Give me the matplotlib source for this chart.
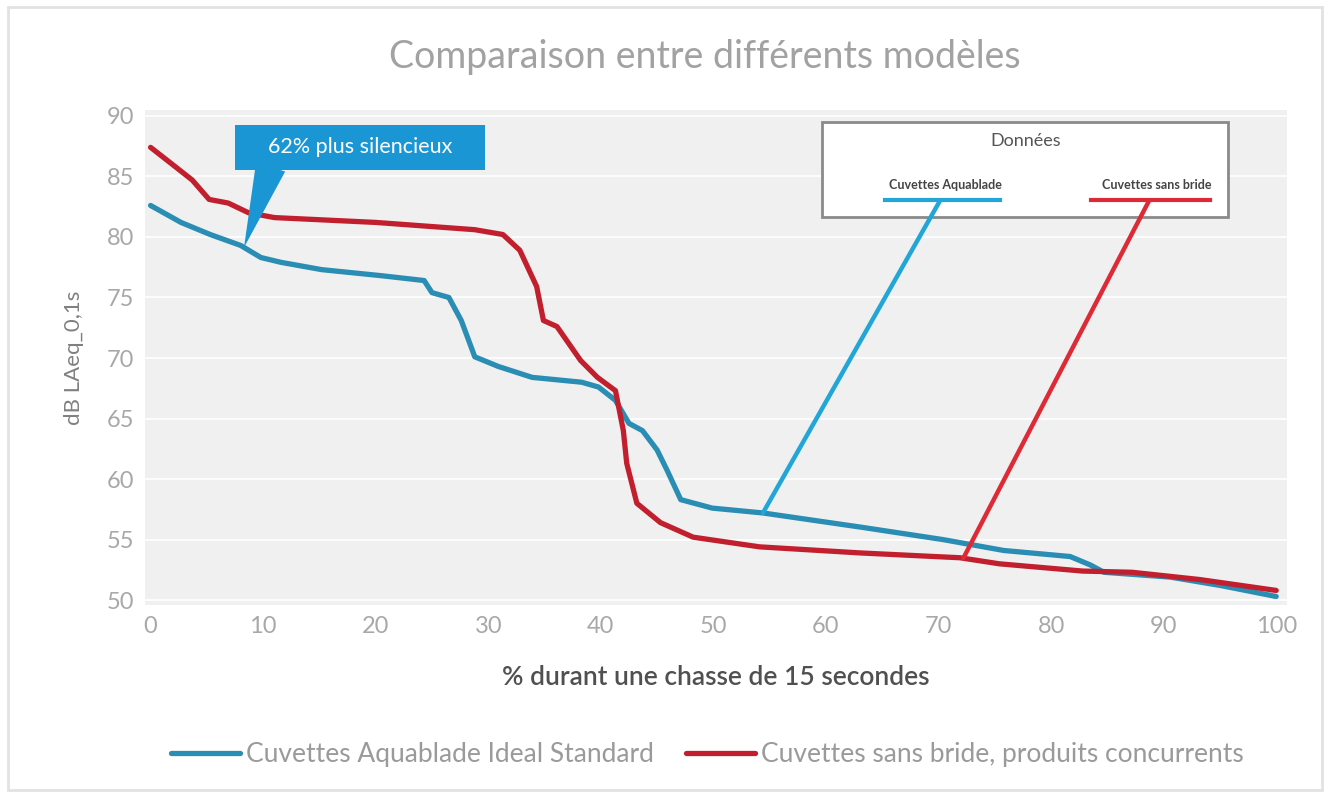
import numpy as np
import matplotlib
matplotlib.use("Agg")
import matplotlib.pyplot as plt
from matplotlib.patches import Rectangle
from matplotlib.lines import Line2D

plt.rcParams['font.family'] = ['Lato', 'DejaVu Sans']

title = "Comparaison entre différents modèles"
xlabel = "% durant une chasse de 15 secondes"
ylabel = "dB LAeq_0,1s"
series_names = ["Cuvettes Aquablade Ideal Standard", "Cuvettes sans bride, produits concurrents"]
box_names = ["Cuvettes Aquablade", "Cuvettes sans bride"]
callout_text = "62% plus silencieux"

blue_x = [0, 2.7, 5.3, 8, 9.8, 11.6, 15.2, 20.5, 24.3, 25, 26.5, 27.6, 28.8, 30.9, 33.9,
          38.3, 39.8, 41.3, 42.5, 43.7, 45, 45.9, 47.1, 49.9, 54.4, 63.3, 70.4, 75.8,
          81.7, 83.5, 84.7, 90.6, 95.1, 100]
blue_y = [82.6, 81.2, 80.2, 79.3, 78.3, 77.9, 77.3, 76.8, 76.4, 75.4, 75.0, 73.1, 70.1,
          69.3, 68.4, 68.0, 67.6, 66.5, 64.6, 64.0, 62.4, 60.7, 58.3, 57.6, 57.2, 56.0,
          55.0, 54.1, 53.6, 52.9, 52.3, 51.9, 51.2, 50.3]

red_x = [0, 2.2, 3.7, 5.2, 6.9, 8.7, 11, 20, 28.8, 31.3, 32.8, 34.3, 34.9, 36.1, 38.2,
         39.7, 41.3, 42.0, 42.3, 43.2, 45.3, 48.2, 54.1, 63, 71.9, 75.4, 82.8, 87.2, 93.2, 100]
red_y = [87.4, 85.8, 84.7, 83.1, 82.8, 82.0, 81.6, 81.2, 80.6, 80.2, 78.9, 75.9, 73.1,
         72.6, 69.8, 68.4, 67.3, 64.0, 61.3, 58.0, 56.4, 55.2, 54.4, 53.9, 53.5, 53.0,
         52.4, 52.3, 51.7, 50.8]

x_ticks = [0, 10, 20, 30, 40, 50, 60, 70, 80, 90, 100]
y_ticks = [50, 55, 60, 65, 70, 75, 80, 85, 90]

callout_x = 8.3
blue_link_x = 54.4
red_link_x = 72.2

BLUE = "#2a8db3"
RED = "#c21f2e"
BLUE_L = "#22a6d8"
RED_L = "#dc2b36"
CALLOUT = "#1b96d4"

fig = plt.figure(figsize=(13.3, 7.96), dpi=100)
fig.patch.set_facecolor("white")
fig.add_artist(Rectangle((0.006, 0.008), 0.988, 0.983, transform=fig.transFigure,
                         fill=False, edgecolor="#e2e2e2", linewidth=2))

ax = fig.add_axes([0.109, 0.240, 0.859, 0.622])
ax.set_facecolor("#f0f0f0")
for s in ax.spines.values():
    s.set_visible(False)
ax.set_xlim(-0.5, 101)
ax.set_ylim(49.6, 90.5)
ax.set_xticks(x_ticks)
ax.set_yticks(y_ticks)
ax.tick_params(length=0, labelsize=17, labelcolor="#a8a8a8", pad=8)
ax.yaxis.grid(True, color="white", linewidth=1.2)
ax.set_axisbelow(True)

ax.plot(blue_x, blue_y, color=BLUE, linewidth=3.8, solid_joinstyle="round",
        solid_capstyle="round", label=series_names[0], zorder=3)
ax.plot(red_x, red_y, color=RED, linewidth=3.8, solid_joinstyle="round",
        solid_capstyle="round", label=series_names[1], zorder=3)

ax.set_xlabel(xlabel, fontsize=19, color="#505050", labelpad=20, fontweight="semibold")
ax.set_ylabel(ylabel, fontsize=16, color="#808080", labelpad=16)
fig.text(0.530, 0.928, title, ha="center", va="center", fontsize=27, color="#a2a2a2")

# Data box
bx0, bx1, by0, by1 = 0.593, 0.948, 0.784, 0.976
ax.add_patch(Rectangle((bx0, by0), bx1 - bx0, by1 - by0, transform=ax.transAxes,
                       facecolor="white", edgecolor="#8a8a8a", linewidth=2, zorder=5))
ax.text((bx0 + bx1) / 2, 0.937, "Données", transform=ax.transAxes, ha="center",
        va="center", fontsize=13, color="#555555", zorder=6)
ax.text(0.701, 0.848, box_names[0], transform=ax.transAxes, ha="center", va="center",
        fontsize=9, fontweight="bold", color="#444444", zorder=6)
ax.text(0.886, 0.848, box_names[1], transform=ax.transAxes, ha="center", va="center",
        fontsize=9, fontweight="bold", color="#444444", zorder=6)
ax.add_line(Line2D([0.648, 0.748], [0.817, 0.817], transform=ax.transAxes,
                   color=BLUE_L, linewidth=3, zorder=6))
ax.add_line(Line2D([0.828, 0.932], [0.817, 0.817], transform=ax.transAxes,
                   color=RED_L, linewidth=3, zorder=6))

# link lines from box to curves
by = np.interp(blue_link_x, blue_x, blue_y)
ry = np.interp(red_link_x, red_x, red_y)
ax.annotate("", xy=(blue_link_x, by), xycoords="data", xytext=(0.696, 0.817),
            textcoords="axes fraction",
            arrowprops=dict(arrowstyle="-", color=BLUE_L, linewidth=3.2,
                            shrinkA=0, shrinkB=0), zorder=7)
ax.annotate("", xy=(red_link_x, ry), xycoords="data", xytext=(0.879, 0.817),
            textcoords="axes fraction",
            arrowprops=dict(arrowstyle="-", color=RED_L, linewidth=3.2,
                            shrinkA=0, shrinkB=0), zorder=7)

# Callout
cx0, cx1, cy0, cy1 = 0.079, 0.298, 0.879, 0.970
ax.add_patch(Rectangle((cx0, cy0), cx1 - cx0, cy1 - cy0, transform=ax.transAxes,
                       facecolor=CALLOUT, edgecolor="none", zorder=5))
ax.text((cx0 + cx1) / 2, (cy0 + cy1) / 2, callout_text, transform=ax.transAxes,
        ha="center", va="center", fontsize=15.5, color="white", zorder=6)
cy = np.interp(callout_x, blue_x, blue_y)
ax.annotate("", xy=(callout_x, cy), xycoords="data", xytext=(0.110, 0.885),
            textcoords="axes fraction",
            arrowprops=dict(arrowstyle="wedge,tail_width=1.0", fc=CALLOUT, ec="none",
                            mutation_scale=22, shrinkA=0, shrinkB=0), zorder=5)

fig.legend(handles=ax.get_lines(), labels=series_names, loc="center",
           bbox_to_anchor=(0.532, 0.052), ncol=2, frameon=False, fontsize=19,
           labelcolor="#9a9a9a", handlelength=2.6, handletextpad=0.25, columnspacing=1.2)

fig.savefig("out.png", dpi=100)
